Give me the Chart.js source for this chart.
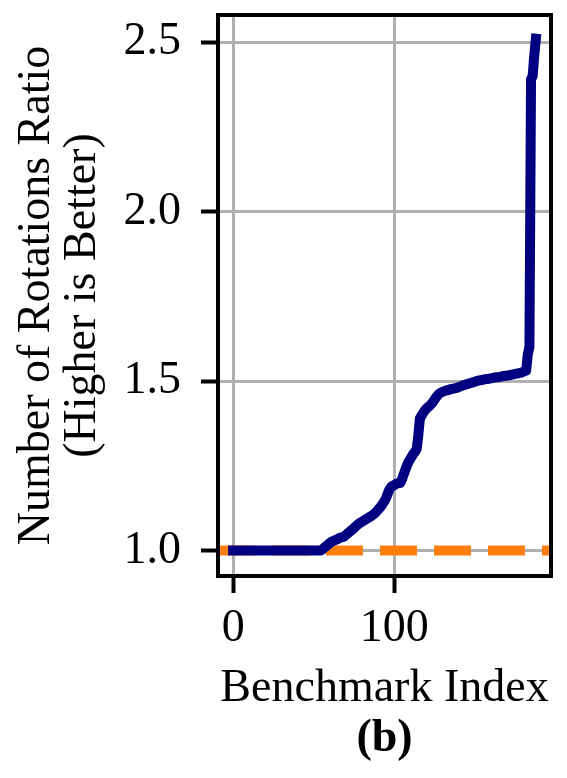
<!DOCTYPE html>
<html>
<head>
<meta charset="utf-8">
<script src="https://cdn.jsdelivr.net/npm/chart.js@4.4.1/dist/chart.umd.min.js"></script>
<style>
    html, body { margin: 0; padding: 0; background: #fff; }
    #chartRef { display: block; }
</style>
</head>
<body>
<canvas id="chartRef" width="567" height="778"></canvas>
<script>
// rotations ratio per benchmark, sorted ascending (index 0..188)
const ratios = [
    1.0, 1.0, 1.0, 1.0, 1.0, 1.0, 1.0, 1.0, 1.0, 1.0,
    1.0, 1.0, 1.0, 1.0, 1.0, 1.0, 1.0, 1.0, 1.0, 1.0,
    1.0, 1.0, 1.0, 1.0, 1.0, 1.0, 1.0, 1.0, 1.0, 1.0,
    1.0, 1.0, 1.0, 1.0, 1.0, 1.0, 1.0, 1.0, 1.0, 1.0,
    1.0, 1.0, 1.0, 1.0, 1.0, 1.0, 1.0, 1.0, 1.0, 1.0,
    1.0, 1.0, 1.0, 1.0, 1.0, 1.002, 1.006, 1.010, 1.014, 1.018,
    1.022, 1.026, 1.028, 1.030, 1.032, 1.034, 1.037, 1.039, 1.040, 1.042,
    1.046, 1.050, 1.054, 1.058, 1.062, 1.066, 1.071, 1.075, 1.079, 1.082,
    1.085, 1.088, 1.091, 1.094, 1.097, 1.100, 1.103, 1.106, 1.110, 1.115,
    1.120, 1.126, 1.132, 1.139, 1.146, 1.155, 1.168, 1.180, 1.187, 1.191,
    1.193, 1.196, 1.198, 1.199, 1.200, 1.212, 1.226, 1.239, 1.252, 1.262,
    1.270, 1.278, 1.286, 1.292, 1.300, 1.340, 1.390, 1.398, 1.406, 1.413,
    1.419, 1.423, 1.427, 1.432, 1.438, 1.445, 1.452, 1.458, 1.463, 1.466,
    1.468, 1.470, 1.472, 1.473, 1.474, 1.476, 1.477, 1.478, 1.479, 1.480,
    1.482, 1.484, 1.486, 1.488, 1.489, 1.491, 1.492, 1.494, 1.495, 1.497,
    1.498, 1.500, 1.501, 1.502, 1.503, 1.504, 1.505, 1.506, 1.506, 1.507,
    1.508, 1.509, 1.510, 1.511, 1.511, 1.512, 1.513, 1.514, 1.515, 1.516,
    1.516, 1.517, 1.518, 1.519, 1.520, 1.521, 1.522, 1.523, 1.524, 1.525,
    1.527, 1.529, 1.531, 1.580, 1.600, 2.390, 2.400, 2.460, 2.510
];
const baselineRatio = 1.0;
const xTickValues = [0, 100];
const yTickValues = [1.0, 1.5, 2.0, 2.5];
const xRange = [-9.4, 197.4];
const yRange = [0.925, 2.58];

const serif = "'Liberation Serif', 'Times New Roman', serif";

// box around the plot area, drawn over the lines like matplotlib spines
const frameBox = {
    id: "frameBox",
    afterDatasetsDraw(chart) {
        const { ctx, chartArea } = chart;
        ctx.save();
        ctx.strokeStyle = "#000";
        ctx.lineWidth = 4;
        ctx.strokeRect(chartArea.left, chartArea.top,
            chartArea.right - chartArea.left, chartArea.bottom - chartArea.top);
        ctx.restore();
    },
};

const chartRef = document.getElementById("chartRef");
new Chart(chartRef.getContext("2d"), {
    type: "line",
    data: {
        datasets: [
            {
                data: ratios.map((v, i) => ({ x: i, y: v })),
                borderColor: "#000080",
                borderWidth: 10,
                borderCapStyle: "square",
                borderJoinStyle: "round",
                pointRadius: 0,
                tension: 0,
                order: 0,
            },
            {
                data: xRange.map((x) => ({ x: x, y: baselineRatio })),
                borderColor: "#ff7f0e",
                borderWidth: 10,
                borderDash: [37, 17],
                borderCapStyle: "butt",
                pointRadius: 0,
                order: 1,
            },
        ],
    },
    options: {
        responsive: false,
        animation: false,
        devicePixelRatio: 1,
        layout: { padding: { top: 15, right: 16, left: 0, bottom: 0 } },
        plugins: {
            legend: { display: false },
            tooltip: { enabled: false },
            title: {
                display: true,
                text: "(b)",
                position: "bottom",
                fullSize: false,
                color: "#000",
                font: { family: serif, size: 46, weight: "bold", lineHeight: 1 },
                padding: { top: 0, bottom: 16 },
            },
        },
        scales: {
            x: {
                type: "linear",
                min: xRange[0],
                max: xRange[1],
                afterBuildTicks: (s) => { s.ticks = xTickValues.map((v) => ({ value: v })); },
                afterFit: (s) => {
                    s.height = 140;
                    s.paddingLeft = 0;
                    s.paddingRight = 0;
                },
                ticks: {
                    color: "#000",
                    font: { family: serif, size: 46 },
                    padding: 8,
                    maxRotation: 0,
                },
                grid: { color: "#b0b0b0", lineWidth: 3, tickColor: "#000", tickWidth: 4, tickLength: 17 },
                border: { display: false },
                title: {
                    display: true,
                    text: "Benchmark Index",
                    color: "#000",
                    font: { family: serif, size: 46, lineHeight: 1 },
                    padding: { top: 0, bottom: 4 },
                },
            },
            y: {
                type: "linear",
                min: yRange[0],
                max: yRange[1],
                afterBuildTicks: (s) => { s.ticks = yTickValues.map((v) => ({ value: v })); },
                afterFit: (s) => {
                    s.width = 218;
                    s.paddingTop = 0;
                    s.paddingBottom = 0;
                },
                ticks: {
                    color: "#000",
                    font: { family: serif, size: 46 },
                    padding: 20,
                    callback: (v) => Number(v).toFixed(1),
                },
                grid: { color: "#b0b0b0", lineWidth: 3, tickColor: "#000", tickWidth: 4, tickLength: 17 },
                border: { display: false },
                title: {
                    display: true,
                    text: ["Number of Rotations Ratio", "(Higher is Better)"],
                    color: "#000",
                    font: { family: serif, size: 46, lineHeight: 1 },
                    padding: { top: 14, bottom: 0 },
                },
            },
        },
    },
    plugins: [frameBox],
});
</script>
</body>
</html>
